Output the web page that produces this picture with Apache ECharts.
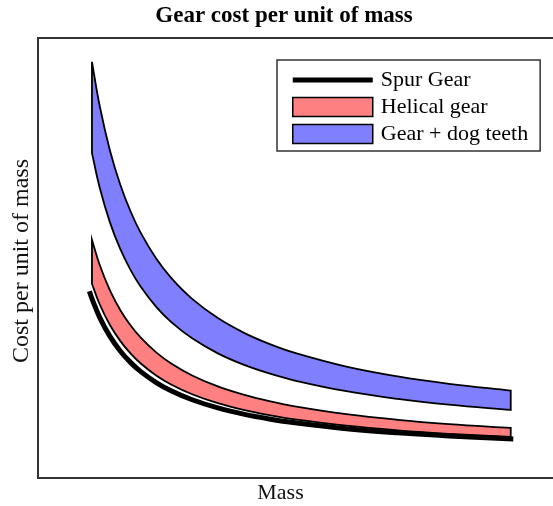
<!DOCTYPE html>
<html>
<head>
<meta charset="utf-8">
<style>
  html, body { margin: 0; padding: 0; background: #fff; }
  #chart { width: 553px; height: 506px; }
</style>
<script src="https://cdn.jsdelivr.net/npm/echarts@6/dist/echarts.min.js"></script>
</head>
<body>
<div id="chart"></div>
<script>
// Mass sample positions for the two cost bands
const mass = [1.05, 1.2, 1.4, 1.6, 1.8, 2.0, 2.3, 2.6, 3.0, 3.5, 4.0, 4.5, 5.0, 6.0, 7.0, 8.0, 9.2];

// Gear + dog teeth band (upper / lower bound)
const dogUpper = [94.59, 84.60, 74.44, 66.71, 60.62, 55.70, 49.87, 45.35, 40.70, 36.34, 33.05, 30.48, 28.42, 25.31, 23.08, 21.40, 19.86];
const dogLower = [73.83, 66.03, 58.10, 52.05, 47.30, 43.45, 38.90, 35.37, 31.74, 28.33, 25.76, 23.76, 22.15, 19.72, 17.98, 16.66, 15.46];

// Helical gear band (upper / lower bound)
const helicalUpper = [54.17, 48.45, 42.63, 38.20, 34.72, 31.90, 28.56, 25.97, 23.31, 20.81, 18.93, 17.46, 16.28, 14.50, 13.22, 12.26, 11.38];
const helicalLower = [44.14, 39.49, 34.76, 31.16, 28.32, 26.03, 23.32, 21.21, 19.04, 17.01, 15.48, 14.28, 13.32, 11.88, 10.84, 10.05, 9.34];

// Spur gear cost curve
const spurMass = [1.0, 1.05, 1.2, 1.4, 1.6, 1.8, 2.0, 2.3, 2.6, 3.0, 3.5, 4.0, 4.5, 5.0, 6.0, 7.0, 8.0, 9.25];
const spurCost = [42.46, 40.78, 36.52, 32.18, 28.88, 26.28, 24.18, 21.70, 19.77, 17.78, 15.92, 14.52, 13.42, 12.54, 11.21, 10.26, 9.55, 8.87];

const seriesNames = ['Spur Gear', 'Helical gear', 'Gear + dog teeth'];
const FONT = 'Liberation Serif, Times New Roman, serif';
const OUTLINE = 1.8;
const SMOOTH = 0.4;

// Closed band outline: upper bound left->right, lower bound right->left.
// Corner vertices are doubled so the smoothed outline keeps straight vertical ends.
function bandRenderer(upper, lower, fill) {
  return function (params, api) {
    const n = mass.length;
    const pts = [];
    for (let i = 0; i < n; i++) {
      const p = api.coord([mass[i], upper[i]]);
      pts.push(p);
      if (i === 0 || i === n - 1) pts.push(p.slice());
    }
    for (let i = n - 1; i >= 0; i--) {
      const p = api.coord([mass[i], lower[i]]);
      pts.push(p);
      if (i === 0 || i === n - 1) pts.push(p.slice());
    }
    return {
      type: 'polygon',
      shape: { points: pts, smooth: SMOOTH },
      style: { fill: fill, stroke: '#000', lineWidth: OUTLINE, lineJoin: 'miter' }
    };
  };
}

const chart = echarts.init(document.getElementById('chart'), null, { renderer: 'canvas' });
chart.setOption({
  animation: false,
  backgroundColor: '#fff',
  title: {
    text: 'Gear cost per unit of mass',
    left: 284,
    top: 5,
    padding: 0,
    textAlign: 'center',
    textStyle: { fontFamily: FONT, fontWeight: 'bold', fontSize: 23, color: '#000' }
  },
  grid: {
    left: 38, top: 38, width: 520, height: 440,
    outerBoundsMode: 'none',
    show: true, borderColor: '#333', borderWidth: 2, backgroundColor: 'transparent'
  },
  xAxis: {
    type: 'value', min: 0, max: 10.12,
    name: 'Mass', nameLocation: 'middle', nameGap: 4,
    nameTextStyle: { fontFamily: FONT, fontSize: 22, color: '#111', verticalAlign: 'top', padding: [0, 35, 0, 0] },
    axisLine: { show: false }, axisTick: { show: false }, axisLabel: { show: false }, splitLine: { show: false }
  },
  yAxis: {
    type: 'value', min: 0, max: 100,
    name: 'Cost per unit of mass', nameLocation: 'middle', nameGap: 4, nameRotate: 90,
    nameTextStyle: { fontFamily: FONT, fontSize: 24, color: '#111', padding: [0, 6, 0, 0] },
    axisLine: { show: false }, axisTick: { show: false }, axisLabel: { show: false }, splitLine: { show: false }
  },
  legend: {
    orient: 'vertical',
    left: 277, top: 60,
    padding: [9, 12, 6, 15],
    backgroundColor: '#fff',
    borderColor: '#333', borderWidth: 1.5, borderRadius: 0,
    itemWidth: 80, itemHeight: 19, itemGap: 5,
    textStyle: { fontFamily: FONT, fontSize: 22, color: '#000', padding: [0, 0, 0, 3], lineHeight: 22 },
    data: [
      { name: seriesNames[0], icon: 'path://M0,0H84V5H0Z', itemStyle: { color: '#000', borderWidth: 0 } },
      { name: seriesNames[1], icon: 'rect', itemStyle: { color: '#ff8080', borderColor: '#000', borderWidth: 1.5 } },
      { name: seriesNames[2], icon: 'rect', itemStyle: { color: '#8080ff', borderColor: '#000', borderWidth: 1.5 } }
    ]
  },
  series: [
    {
      name: seriesNames[2], type: 'custom', coordinateSystem: 'cartesian2d',
      itemStyle: { color: '#8080ff' },
      data: [[mass[0], dogUpper[0]]],
      renderItem: bandRenderer(dogUpper, dogLower, '#8080ff'),
      z: 2
    },
    {
      name: seriesNames[1], type: 'custom', coordinateSystem: 'cartesian2d',
      itemStyle: { color: '#ff8080' },
      data: [[mass[0], helicalUpper[0]]],
      renderItem: bandRenderer(helicalUpper, helicalLower, '#ff8080'),
      z: 3
    },
    {
      name: seriesNames[0], type: 'line',
      data: spurMass.map((m, i) => [m, spurCost[i]]),
      symbol: 'none', smooth: SMOOTH,
      itemStyle: { color: '#000' },
      lineStyle: { color: '#000', width: 5, cap: 'butt', join: 'round' },
      z: 4
    }
  ]
});
</script>
</body>
</html>
